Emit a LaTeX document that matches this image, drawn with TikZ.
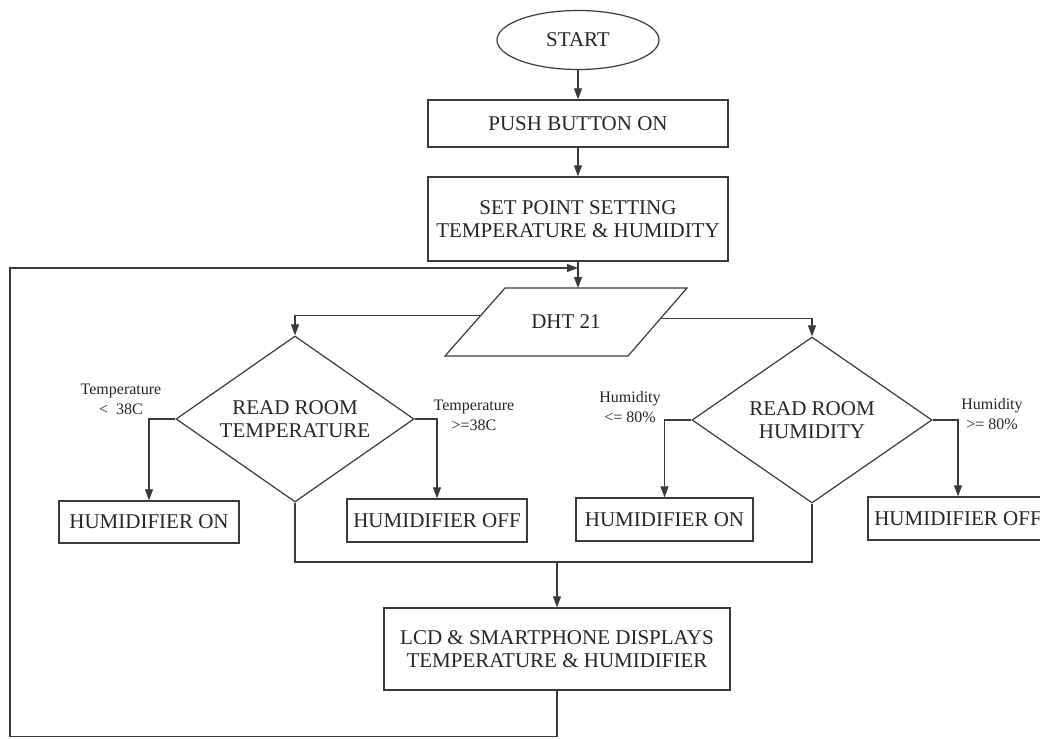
\documentclass[tikz,border=0pt]{standalone}
\usepackage{fontspec}
\setmainfont{Liberation Serif}
\usetikzlibrary{shapes.geometric,arrows.meta,calc}
\definecolor{lc}{HTML}{3A3A3A}
\definecolor{tc}{HTML}{262626}
\begin{document}
\begin{tikzpicture}[x=1pt,y=-1pt,
  line/.style={draw=lc,line width=1.1pt},
  arr/.style={line,-{Triangle[length=11pt,width=8pt]}},
  box/.style={draw=lc,line width=1.3pt,rectangle,inner sep=0pt,align=center,text=tc,
              font=\fontsize{21}{23}\selectfont},
  dia/.style={draw=lc,line width=1.2pt,diamond,inner sep=0pt},
  txt/.style={inner sep=0pt,align=center,text=tc,font=\fontsize{21}{23}\selectfont},
  lab/.style={inner sep=0pt,align=center,text=tc,font=\fontsize{16}{20}\selectfont}
]
\useasboundingbox (0,0) rectangle (1040,738);
\clip (0,0) rectangle (1040,738);

% nodes
\node[draw=lc,line width=1.2pt,ellipse,minimum width=162pt,minimum height=59pt,inner sep=0pt,
      text=tc,font=\fontsize{21}{23}\selectfont] (start) at (578,40) {START};
\node[box,minimum width=300pt,minimum height=47pt] (push) at (578,123.5) {PUSH BUTTON ON};
\node[box,minimum width=300pt,minimum height=84pt] (set) at (578,219) {SET POINT SETTING\\TEMPERATURE \& HUMIDITY};

% DHT 21 parallelogram
\coordinate (dTL) at (505,288);
\coordinate (dTR) at (687,288);
\coordinate (dBR) at (628,356);
\coordinate (dBL) at (445,356);
\draw[draw=lc,line width=1.2pt] (dTL) -- (dTR) -- (dBR) -- (dBL) -- cycle;
\node[txt] (dht) at (566,322) {DHT 21};

\node[dia,minimum width=238pt,minimum height=166pt] (d1) at (295,419) {};
\node[txt] (d1t) at (d1) {READ ROOM\\TEMPERATURE};
\node[dia,minimum width=240pt,minimum height=166pt] (d2) at (812,420) {};
\node[txt] (d2t) at (d2) {READ ROOM\\HUMIDITY};

\node[box,minimum width=180pt,minimum height=42pt] (h1) at (149,522) {HUMIDIFIER ON};
\node[box,minimum width=180pt,minimum height=43pt] (h2) at (437,520.5) {HUMIDIFIER OFF};
\node[box,minimum width=177pt,minimum height=43pt] (h3) at (664.5,519.5) {HUMIDIFIER ON};
\node[box,minimum width=180pt,minimum height=43pt] (h4) at (958,518.5) {HUMIDIFIER OFF};

\node[box,minimum width=346pt,minimum height=82pt] (lcd) at (557,649) {LCD \& SMARTPHONE DISPLAYS\\TEMPERATURE \& HUMIDIFIER};

\node[lab] (l1) at (121,399) {Temperature\\<\ \ 38C};
\node[lab] (l2) at (474,415) {Temperature\\>=38C};
\node[lab] (l3) at (630,407) {Humidity\\<= 80\%};
\node[lab] (l4) at (992,414) {Humidity\\>= 80\%};

% coordinates
\coordinate (pL) at ($(dTL)!0.4!(dBL)$);
\coordinate (pR) at ($(dTR)!0.45!(dBR)$);
\coordinate (dTop) at (578,288);
\coordinate (j) at (557,562);
\coordinate (cBL) at (10,736.5);
\coordinate (fb) at (578,268);

% connectors
\draw[arr] (start) -- (push);
\draw[arr] (push) -- (set);
\draw[arr] (set) -- (dTop);
\draw[arr] (pL) -| (d1.north);
\draw[arr] (pR) -| (d2.north);
\draw[arr] (d1.west) -| (h1.north);
\draw[arr] (d1.east) -| (h2.north);
\draw[arr] (d2.west) -| (h3.north);
\draw[arr] (d2.east) -| (h4.north);
\draw[line] (d1.south) |- (j) -| (d2.south);
\draw[arr] (j) -- (lcd.north);
\draw[line] (lcd.south) |- (cBL);
\draw[arr] (cBL) |- (fb);
\end{tikzpicture}
\end{document}
